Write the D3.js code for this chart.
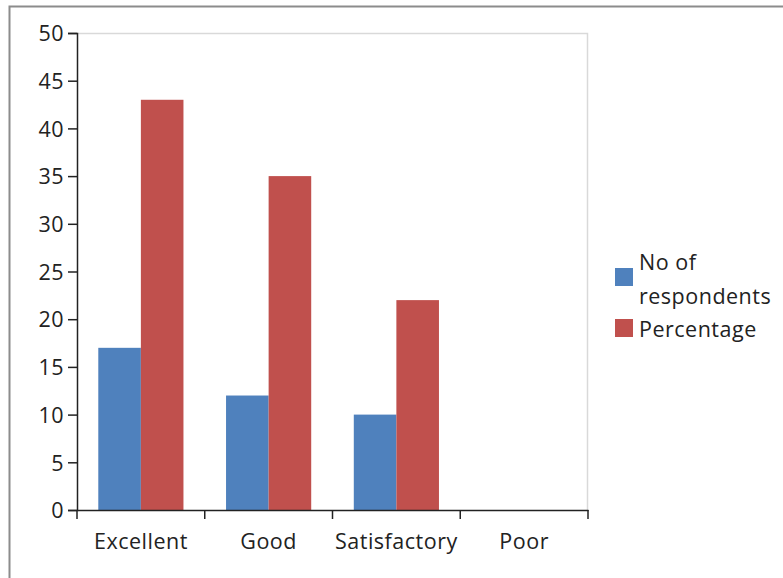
<!DOCTYPE html>
<html><head><meta charset="utf-8">
<script src="https://cdn.jsdelivr.net/npm/d3@7"></script>
<style>body{margin:0;background:#fff}svg{display:block}text{font-family:"Open Sans",sans-serif;fill:#222;letter-spacing:0.5px}</style>
</head><body>
<script>
const categories = ["Excellent","Good","Satisfactory","Poor"];
const seriesNames = ["No of respondents","Percentage"];
const respondents = [17,12,10,0];
const percentage = [43,35,22,0];
const yTicks = [0,5,10,15,20,25,30,35,40,45,50];
const colors = ["#4f81bd","#c0504d"];

const W=783,H=578, FS=21.5;
const svg=d3.select("body").append("svg").attr("width",W).attr("height",H);
// outer frame
svg.append("path").attr("d",`M9.5,${H} V6.5 H${W}`).attr("fill","none").attr("stroke","#8c8c8c").attr("stroke-width",2);

const m={l:77,t:33,r:588,b:510};
const x=d3.scaleBand().domain(categories).range([m.l,m.r]).paddingInner(0).paddingOuter(0);
const y=d3.scaleLinear().domain([0,50]).range([m.b,m.t]);
const inner=d3.scaleBand().domain(seriesNames).range([0,x.bandwidth()]).paddingInner(0).paddingOuter(0.5);

// plot border
svg.append("path").attr("d",`M${m.l},${m.t+0.5} H${m.r-0.5} V${m.b}`).attr("fill","none").attr("stroke","#d9d9d9").attr("stroke-width",1.5);

const data=[respondents,percentage];
data.forEach((vals,si)=>{
  svg.append("g").selectAll("rect").data(categories).join("rect")
    .attr("x",c=>x(c)+inner(seriesNames[si]))
    .attr("width",inner.bandwidth())
    .attr("y",(c,i)=>y(vals[i]))
    .attr("height",(c,i)=>m.b-y(vals[i]))
    .attr("fill",colors[si]);
});

// y axis
const ya=svg.append("g").attr("transform",`translate(${m.l},0)`)
  .call(d3.axisLeft(y).tickValues(yTicks).tickSize(9).tickPadding(4));
ya.select(".domain").attr("stroke","#222").attr("stroke-width",1.5);
ya.selectAll(".tick line").attr("stroke","#222").attr("stroke-width",1.5);
ya.selectAll("text").attr("font-size",FS).attr("font-family","'Open Sans',sans-serif").attr("fill","#222").attr("dy","0.36em");

// x axis
const xa=svg.append("g").attr("transform",`translate(0,${m.b})`)
  .call(d3.axisBottom(x).tickSize(0));
xa.select(".domain").attr("stroke","#222").attr("stroke-width",1.5);
xa.selectAll("text").attr("font-size",FS).attr("font-family","'Open Sans',sans-serif").attr("fill","#222").attr("y",39).attr("dy",0);
const bounds=[...categories.map(c=>x(c)), m.r];
xa.selectAll(".bt").data(bounds).join("line").attr("class","bt")
  .attr("x1",d=>d).attr("x2",d=>d).attr("y1",0).attr("y2",9)
  .attr("stroke","#222").attr("stroke-width",1.5);

// legend
const lg=svg.append("g");
lg.append("rect").attr("x",615).attr("y",268).attr("width",18).attr("height",18).attr("fill",colors[0]);
lg.append("rect").attr("x",615).attr("y",319).attr("width",18).attr("height",18).attr("fill",colors[1]);
lg.append("text").attr("x",639).attr("y",270).attr("font-size",FS).text("No of");
lg.append("text").attr("x",639).attr("y",304).attr("font-size",FS).text("respondents");
lg.append("text").attr("x",639).attr("y",337).attr("font-size",FS).text("Percentage");
</script>
</body></html>
